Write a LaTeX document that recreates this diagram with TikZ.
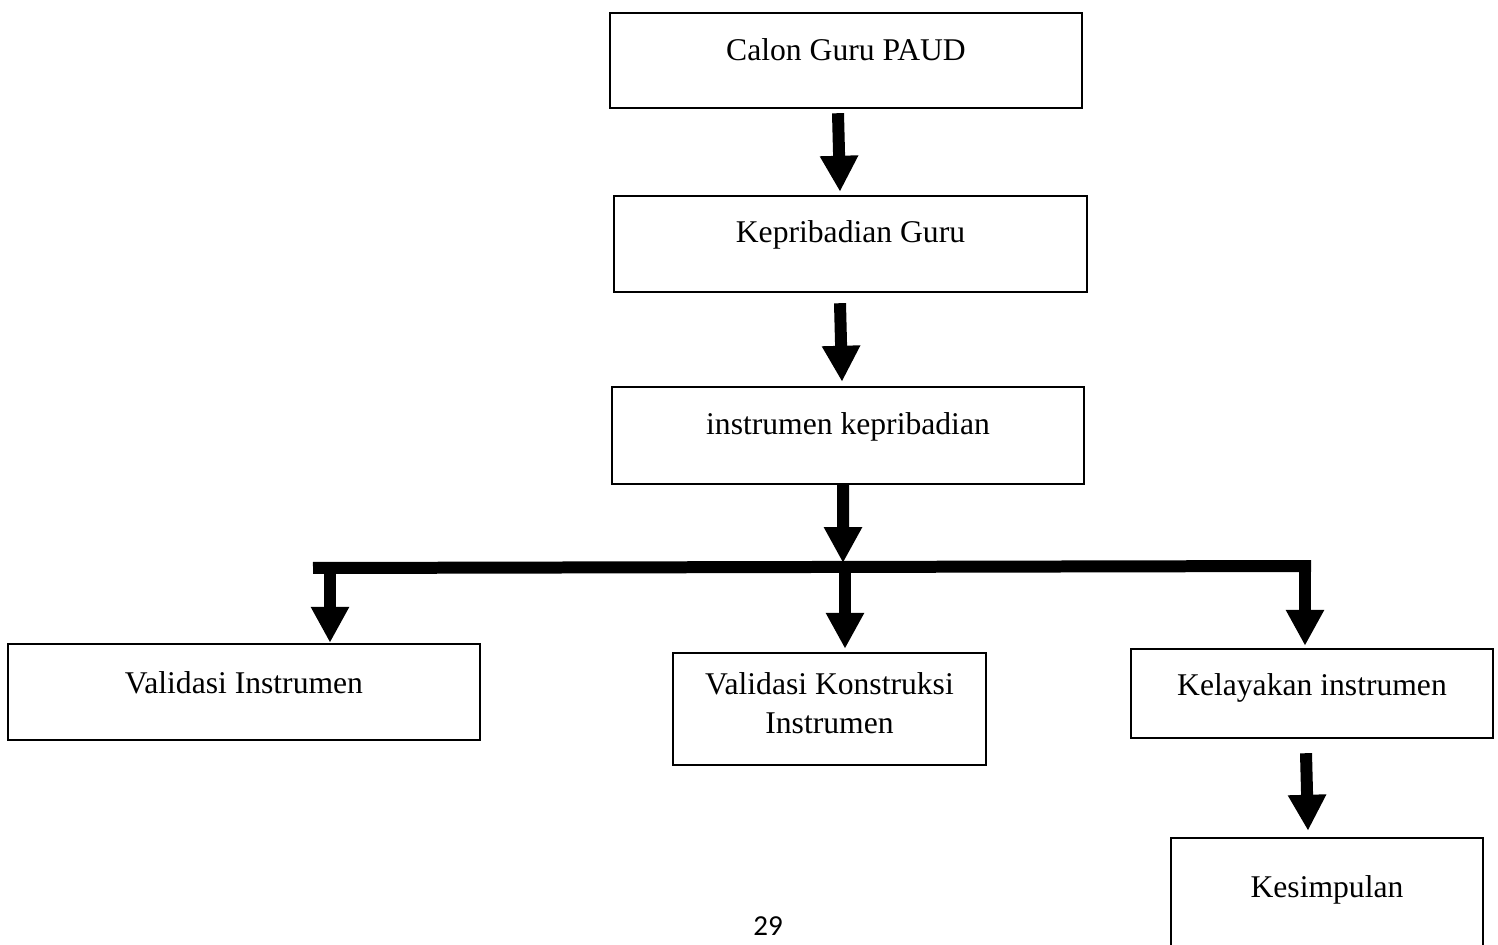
\documentclass[tikz,border=0pt]{standalone}
\usepackage{fontspec}
\setmainfont{Liberation Serif}
\newfontfamily\pagenumfont{Carlito}
\usetikzlibrary{arrows.meta}

\tikzset{
    box/.style={draw, line width=1.4pt, inner xsep=0pt, inner ysep=0pt, align=center,
        font=\fontsize{18}{22}\selectfont, anchor=base},
    flow/.style={line width=0.24cm, -{Triangle[width=0.72cm,length=0.72cm]}},
    bar/.style={line width=0.24cm},
}

\begin{document}
\begin{tikzpicture}[x=0.02cm,y=-0.02cm]
    \useasboundingbox (0,0) rectangle (1498,945);

    % Main column
    \node[box, minimum width=9.44cm, text height=0.96cm, text depth=0.94cm] (calon) at (846,61) {Calon Guru PAUD};
    \node[box, minimum width=9.46cm, text height=0.94cm, text depth=0.98cm] (kepribadian) at (850.5,243) {Kepribadian Guru};
    \node[box, minimum width=9.44cm, text height=0.96cm, text depth=0.98cm] (instrumen) at (848,435) {instrumen kepribadian};

    % Bottom row
    \node[box, minimum width=9.44cm, text height=0.98cm, text depth=0.94cm] (validasi) at (244,693) {Validasi Instrumen};
    \node[box, minimum width=6.26cm, text height=1.6cm, text depth=0.64cm] (konstruksi) at (829.5,733) {Validasi Konstruksi\\Instrumen};
    \node[box, minimum width=7.24cm, text height=0.92cm, text depth=0.86cm] (kelayakan) at (1312,695) {Kelayakan instrumen};
    \node[box, minimum width=6.24cm, text height=1.18cm, text depth=1.26cm] (kesimpulan) at (1327,897) {Kesimpulan};

    \node[font=\pagenumfont\fontsize{16.5}{20}\selectfont, anchor=base] (pagenum) at (768,935) {29};

    % Branching bar
    \coordinate (hub) at (843,563);
    \coordinate (barL) at (313,568);
    \coordinate (barR) at (1311,566);
    \coordinate (dropL) at (330,568);
    \coordinate (dropM) at (845,568);
    \coordinate (dropR) at (1305,566);

    % Arrows
    \draw[flow] ([xshift=-0.16cm,yshift=-0.08cm]calon.south) -- ([xshift=-0.21cm,yshift=0.06cm]kepribadian.north);
    \draw[flow] ([xshift=-0.21cm,yshift=-0.2cm]kepribadian.south) -- ([xshift=-0.12cm,yshift=0.08cm]instrumen.north);
    \draw[flow] ([xshift=-0.1cm]instrumen.south) -- (hub);
    \draw[bar] (barL) -- (barR);
    \draw[flow] (dropL) -- (dropL |- validasi.north);
    \draw[flow, shorten >=0.06cm] (dropM) -- (dropM |- konstruksi.north);
    \draw[flow, shorten >=0.04cm] (dropR) -- (dropR |- kelayakan.north);
    \draw[flow] ([xshift=-0.12cm,yshift=-0.28cm]kelayakan.south) -- ([xshift=-0.38cm,yshift=0.12cm]kesimpulan.north);
\end{tikzpicture}
\end{document}
